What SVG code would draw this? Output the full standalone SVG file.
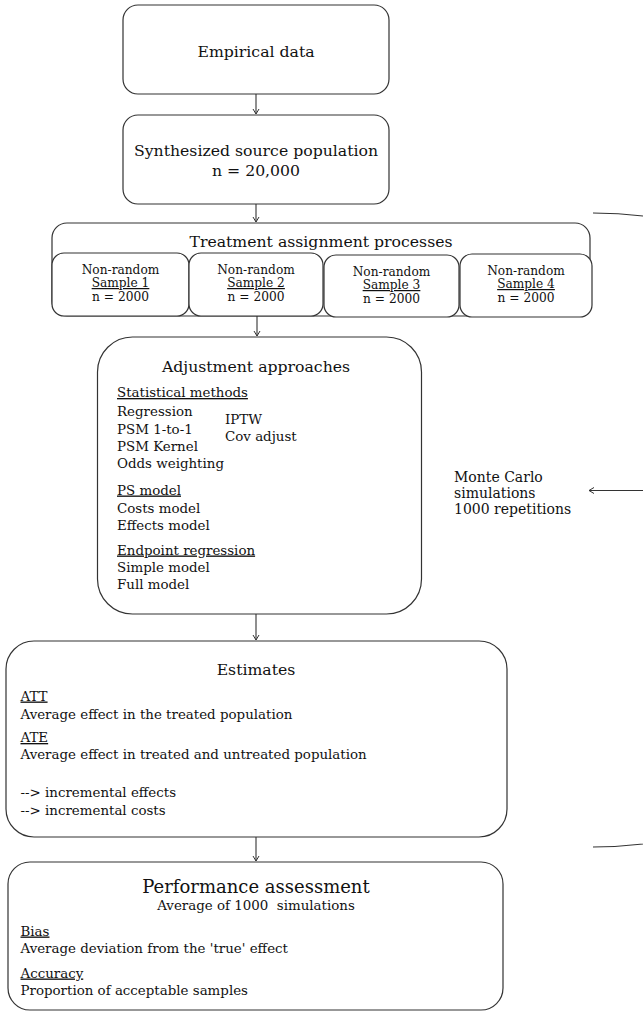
<svg xmlns="http://www.w3.org/2000/svg" width="643" height="1011" viewBox="0 0 643 1011">
<style>
  text { font-family: "DejaVu Serif", "Liberation Serif", serif; fill: #111; }
  .box { fill: #fff; stroke: #333; stroke-width: 1.2; }
  .c { text-anchor: middle; }
  .t16 { font-size: 15.7px; }
  .t18 { font-size: 18px; }
  .b { font-size: 13.4px; }
  .s { font-size: 12.2px; }
  .u { text-decoration: underline; }
  .conn { fill: none; stroke: #333; stroke-width: 1.1; }
</style>
<defs>
  <marker id="ah" markerWidth="8" markerHeight="8" refX="6" refY="4" orient="auto" markerUnits="userSpaceOnUse">
    <path d="M1,1 L6,4 L1,7" fill="none" stroke="#333" stroke-width="1"/>
  </marker>
</defs>

<g id="connectors">
  <line class="conn" x1="256" y1="94" x2="256" y2="114" marker-end="url(#ah)"/>
  <line class="conn" x1="256" y1="204" x2="256" y2="222" marker-end="url(#ah)"/>
  <line class="conn" x1="257" y1="316" x2="257" y2="336" marker-end="url(#ah)"/>
  <line class="conn" x1="256" y1="614" x2="256" y2="640" marker-end="url(#ah)"/>
  <line class="conn" x1="256" y1="837" x2="256" y2="861" marker-end="url(#ah)"/>
  <path class="conn" d="M593,213 A365,317 0 0 1 593,847"/>
  <line class="conn" x1="645" y1="490.5" x2="589" y2="490.5" marker-end="url(#ah)"/>
</g>

<g id="empirical">
  <rect class="box" x="123" y="5" width="266" height="89" rx="15"/>
  <text class="c t16" x="256" y="57">Empirical data</text>
</g>

<g id="synthesized">
  <rect class="box" x="123" y="115" width="266" height="89" rx="15"/>
  <text class="c t16" x="256" y="156">Synthesized source population</text>
  <text class="c t16" x="256" y="176">n = 20,000</text>
</g>

<g id="treatment">
  <rect class="box" x="52" y="223" width="538" height="93" rx="15"/>
  <text class="c t16" x="321" y="247">Treatment assignment processes</text>
</g>

<g id="sample1">
  <rect class="box" x="52" y="253" width="137" height="63" rx="12"/>
  <text class="c s" x="120.5" y="273.5">Non-random</text>
  <text class="c s u" x="120.5" y="287">Sample 1</text>
  <text class="c s" x="120.5" y="300.5">n = 2000</text>
</g>

<g id="sample2">
  <rect class="box" x="189" y="253" width="134" height="63" rx="12"/>
  <text class="c s" x="256" y="273.5">Non-random</text>
  <text class="c s u" x="256" y="287">Sample 2</text>
  <text class="c s" x="256" y="300.5">n = 2000</text>
</g>

<g id="sample3">
  <rect class="box" x="324" y="255" width="135" height="62" rx="12"/>
  <text class="c s" x="391.5" y="275.5">Non-random</text>
  <text class="c s u" x="391.5" y="289">Sample 3</text>
  <text class="c s" x="391.5" y="302.5">n = 2000</text>
</g>

<g id="sample4">
  <rect class="box" x="460" y="254" width="132" height="63" rx="12"/>
  <text class="c s" x="526" y="274.5">Non-random</text>
  <text class="c s u" x="526" y="288">Sample 4</text>
  <text class="c s" x="526" y="301.5">n = 2000</text>
</g>

<g id="adjustment">
  <rect class="box" x="97.5" y="337" width="324" height="277" rx="35"/>
  <text class="c t16" x="256" y="372">Adjustment approaches</text>
  <text class="b u" x="117" y="397">Statistical methods</text>
  <text class="b" x="117" y="416">Regression</text>
  <text class="b" x="117" y="433.5">PSM 1-to-1</text>
  <text class="b" x="117" y="451">PSM Kernel</text>
  <text class="b" x="117" y="468">Odds weighting</text>
  <text class="b" x="225" y="423.5">IPTW</text>
  <text class="b" x="225" y="441">Cov adjust</text>
  <text class="b u" x="117" y="494.5">PS model</text>
  <text class="b" x="117" y="512.5">Costs model</text>
  <text class="b" x="117" y="530">Effects model</text>
  <text class="b u" x="117" y="554.5">Endpoint regression</text>
  <text class="b" x="117" y="572">Simple model</text>
  <text class="b" x="117" y="589">Full model</text>
</g>

<g id="montecarlo">
  <text style="font-size:14px" x="454" y="482">Monte Carlo</text>
  <text style="font-size:14px" x="454" y="497.5">simulations</text>
  <text style="font-size:14px" x="454" y="513.5">1000 repetitions</text>
</g>

<g id="estimates">
  <rect class="box" x="6" y="641" width="501" height="196" rx="28"/>
  <text class="c t16" x="256" y="675">Estimates</text>
  <text class="b u" x="20.5" y="700.5">ATT</text>
  <text class="b" x="20.5" y="718.5">Average effect in the treated population</text>
  <text class="b u" x="20.5" y="742">ATE</text>
  <text class="b" x="20.5" y="758.5">Average effect in treated and untreated population</text>
  <text class="b" x="20.5" y="796.5">--&gt; incremental effects</text>
  <text class="b" x="20.5" y="814.5">--&gt; incremental costs</text>
</g>

<g id="performance">
  <rect class="box" x="8" y="862" width="495" height="148" rx="22"/>
  <text class="c t18" x="256" y="893">Performance assessment</text>
  <text class="c b" x="256" y="910" xml:space="preserve">Average of 1000  simulations</text>
  <text class="b u" x="20.5" y="935.5">Bias</text>
  <text class="b" x="20.5" y="952.5">Average deviation from the 'true' effect</text>
  <text class="b u" x="20.5" y="977.5">Accuracy</text>
  <text class="b" x="20.5" y="995">Proportion of acceptable samples</text>
</g>
</svg>
